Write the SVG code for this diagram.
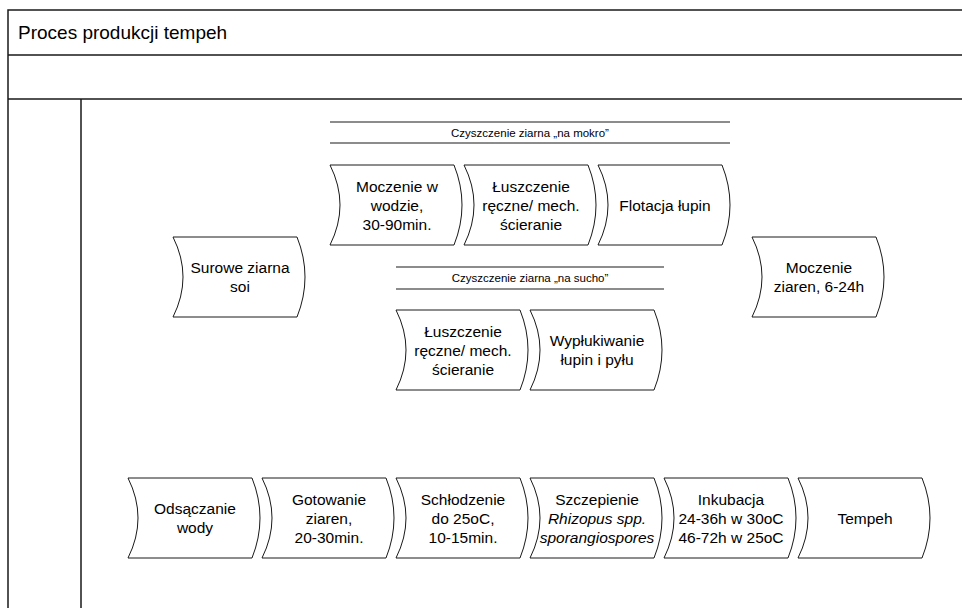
<svg xmlns="http://www.w3.org/2000/svg" width="962" height="608" viewBox="0 0 962 608">
<style>
.frame{fill:none;stroke:#1a1a1a;stroke-width:1.5}
.hdr{stroke:#1a1a1a;stroke-width:1.2}
.shape{fill:#fff;stroke:#1a1a1a;stroke-width:1}
.t{font-family:"Liberation Sans",Arial,sans-serif;font-size:15.5px;fill:#000;text-anchor:middle}
.h{font-family:"Liberation Sans",Arial,sans-serif;font-size:11.5px;fill:#000;text-anchor:middle}
.title{font-family:"Liberation Sans",Arial,sans-serif;font-size:19px;fill:#000}
.i{font-style:italic}
</style>
<defs>
<path id="proc" d="M0,0 L124,0 Q140,40 124,80 L0,80 Q20,40 0,0 Z"/>
</defs>
<rect width="962" height="608" fill="#fff"/>
<g id="frame">
<path class="frame" d="M970,10 L8,10 L8,620 M8,55 L970,55 M8,99 L970,99 M81,99 L81,620"/>
<text class="title" x="18" y="39">Proces produkcji tempeh</text>
</g>
<g id="hdr-wet">
<line class="hdr" x1="330" y1="122" x2="730" y2="122"/>
<line class="hdr" x1="330" y1="143" x2="730" y2="143"/>
<text class="h" x="530" y="137">Czyszczenie ziarna „na mokro”</text>
</g>
<g id="hdr-dry">
<line class="hdr" x1="396" y1="267" x2="664" y2="267"/>
<line class="hdr" x1="396" y1="289" x2="664" y2="289"/>
<text class="h" x="530" y="282">Czyszczenie ziarna „na sucho”</text>
</g>
<g id="surowe">
<use href="#proc" class="shape" transform="translate(173,237)"/>
<text class="t" x="240" y="273">Surowe ziarna</text>
<text class="t" x="240" y="292">soi</text>
</g>
<g id="moczenie-wodzie">
<use href="#proc" class="shape" transform="translate(330,165)"/>
<text class="t" x="397" y="192">Moczenie w</text>
<text class="t" x="397" y="211">wodzie,</text>
<text class="t" x="397" y="230">30-90min.</text>
</g>
<g id="luszczenie-mokro">
<use href="#proc" class="shape" transform="translate(464,165)"/>
<text class="t" x="531" y="192">Łuszczenie</text>
<text class="t" x="531" y="211">ręczne/ mech.</text>
<text class="t" x="531" y="230">ścieranie</text>
</g>
<g id="flotacja">
<use href="#proc" class="shape" transform="translate(598,165)"/>
<text class="t" x="665" y="211">Flotacja łupin</text>
</g>
<g id="luszczenie-sucho">
<use href="#proc" class="shape" transform="translate(396,310)"/>
<text class="t" x="463" y="337">Łuszczenie</text>
<text class="t" x="463" y="356">ręczne/ mech.</text>
<text class="t" x="463" y="375">ścieranie</text>
</g>
<g id="wyplukiwanie">
<use href="#proc" class="shape" transform="translate(530,310)"/>
<text class="t" x="597" y="346">Wypłukiwanie</text>
<text class="t" x="597" y="365">łupin i pyłu</text>
</g>
<g id="moczenie-ziaren">
<use href="#proc" class="shape" transform="translate(752,237)"/>
<text class="t" x="819" y="273">Moczenie</text>
<text class="t" x="819" y="292">ziaren, 6-24h</text>
</g>
<g id="odsaczanie">
<use href="#proc" class="shape" transform="translate(128,478)"/>
<text class="t" x="195" y="514">Odsączanie</text>
<text class="t" x="195" y="533">wody</text>
</g>
<g id="gotowanie">
<use href="#proc" class="shape" transform="translate(262,478)"/>
<text class="t" x="329" y="505">Gotowanie</text>
<text class="t" x="329" y="524">ziaren,</text>
<text class="t" x="329" y="543">20-30min.</text>
</g>
<g id="schlodzenie">
<use href="#proc" class="shape" transform="translate(396,478)"/>
<text class="t" x="463" y="505">Schłodzenie</text>
<text class="t" x="463" y="524">do 25oC,</text>
<text class="t" x="463" y="543">10-15min.</text>
</g>
<g id="szczepienie">
<use href="#proc" class="shape" transform="translate(530,478)"/>
<text class="t" x="597" y="505">Szczepienie</text>
<text class="t i" x="597" y="524">Rhizopus spp.</text>
<text class="t i" x="597" y="543">sporangiospores</text>
</g>
<g id="inkubacja">
<use href="#proc" class="shape" transform="translate(664,478)"/>
<text class="t" x="731" y="505">Inkubacja</text>
<text class="t" x="731" y="524">24-36h w 30oC</text>
<text class="t" x="731" y="543">46-72h w 25oC</text>
</g>
<g id="tempeh">
<use href="#proc" class="shape" transform="translate(798,478)"/>
<text class="t" x="865" y="524">Tempeh</text>
</g>
<g id="connectors"></g>
</svg>
